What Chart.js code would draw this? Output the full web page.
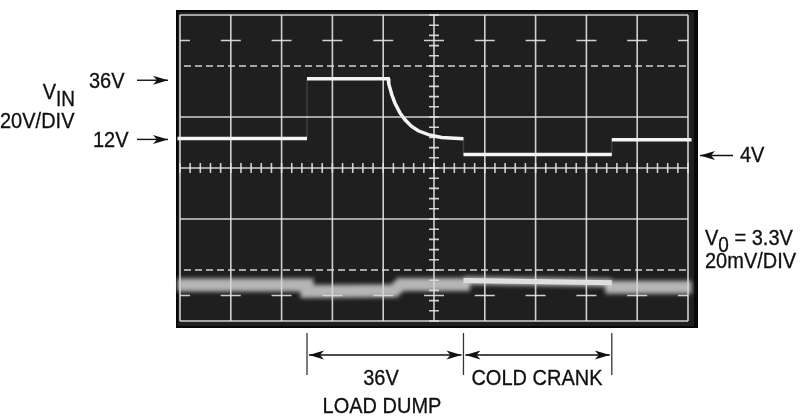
<!DOCTYPE html>
<html>
<head>
<meta charset="utf-8">
<script src="https://cdn.jsdelivr.net/npm/chart.js@4.4.1/dist/chart.umd.min.js"></script>
<style>
  html, body { margin: 0; padding: 0; background: #fff; }
  #wrap { position: relative; width: 800px; height: 418px; overflow: hidden; }
  canvas { position: absolute; left: 0; top: 0; }
  .lbl { position: absolute; font-family: "Liberation Sans", Arial, sans-serif; font-size: 20px; line-height: 20px;
         color: #111; white-space: nowrap; transform: scaleY(1.14); transform-origin: 0 80%;
         -webkit-text-stroke: 0.3px #111; }
  .lbl sub { font-size: 19px; vertical-align: -6px; line-height: 0; }
  .ctr { transform: translateX(-50%) scaleY(1.14); }
</style>
</head>
<body>
<div id="wrap">
  <canvas id="scope" width="800" height="418"></canvas>
  <div class="lbl" style="left:89px; top:71px;">36V</div>
  <div class="lbl" style="right:725px; top:82px;">V<sub>IN</sub></div>
  <div class="lbl" style="left:0px; top:111px;">20V/DIV</div>
  <div class="lbl" style="left:93px; top:130px;">12V</div>
  <div class="lbl" style="left:740px; top:145px;">4V</div>
  <div class="lbl" style="left:705px; top:228px;">V<sub>0</sub> = 3.3V</div>
  <div class="lbl" style="left:705px; top:251px;">20mV/DIV</div>
  <div class="lbl ctr" style="left:381px; top:368px;">36V</div>
  <div class="lbl ctr" style="left:382px; top:396px;">LOAD DUMP</div>
  <div class="lbl ctr" style="left:537px; top:368px;">COLD CRANK</div>
</div>
<script>
// time in divisions, VIN in volts (20V/DIV), VO in mV from the dashed line (20mV/DIV)
const vinTime  = [-0.05, 2.5, 2.5, 4.10, 4.11, 4.17, 4.23, 4.33, 4.43, 4.56, 4.69, 4.89, 5.15, 5.58, 5.58, 8.50, 8.50, 10.07];
const vinVolts = [11.6, 11.6, 35, 35, 33, 28.7, 25.5, 21.6, 18.9, 16.3, 14.6, 13.1, 12.0, 11.5, 5.3, 5.3, 11.1, 11.1];

const voTime = [-0.05, 2.5, 2.5, 4.22, 4.34, 5.58, 5.58, 8.50, 8.50, 10.07];
const voMv   = [-5.9, -5.9, -8.4, -8.1, -5.7, -5.7, -4.1, -5.0, -6.8, -6.8];

const crankTime = [5.58, 8.50];
const crankMv   = [-4.1, -5.0];

// dimension marks under the screen (load dump start, cold crank start, cold crank end)
const eventTimes = [2.5, 5.58, 8.5];

function pts(xs, ys) {
  return xs.map((x, i) => ({ x: x, y: ys[i] }));
}

function arrowHead(ctx, x, y, dir) {
  ctx.beginPath();
  ctx.moveTo(x, y);
  ctx.lineTo(x - dir * 15, y - 4.5);
  ctx.lineTo(x - dir * 11, y);
  ctx.lineTo(x - dir * 15, y + 4.5);
  ctx.closePath();
  ctx.fill();
}

function arrow(ctx, x1, x2, y) {
  ctx.beginPath();
  ctx.moveTo(x1, y);
  ctx.lineTo(x2, y);
  ctx.stroke();
  arrowHead(ctx, x2, y, x2 > x1 ? 1 : -1);
}

const scopePlugin = {
  id: 'scope',
  beforeDraw(chart) {
    const ctx = chart.ctx;
    ctx.save();
    ctx.fillStyle = '#fff';
    ctx.fillRect(0, 0, chart.width, chart.height);
    ctx.fillStyle = '#080808';
    ctx.fillRect(176, 10, 522, 318);
    ctx.fillStyle = '#1f1f1f';
    ctx.fillRect(178, 12, 516, 314);
    ctx.restore();
  },
  beforeDatasetsDraw(chart) {
    const ctx = chart.ctx;
    const xs = chart.scales.x, ys = chart.scales.yVin;
    const a = chart.chartArea;
    ctx.save();
    ctx.strokeStyle = 'rgba(228,228,228,0.9)';
    ctx.lineWidth = 1.6;
    for (let d = 0; d <= 10; d++) {
      const x = xs.getPixelForValue(d);
      ctx.beginPath(); ctx.moveTo(x, a.top); ctx.lineTo(x, a.bottom); ctx.stroke();
    }
    [-60, -20, 0, 20, 60].forEach(v => {
      const y = ys.getPixelForValue(v);
      ctx.beginPath(); ctx.moveTo(a.left, y); ctx.lineTo(a.right, y); ctx.stroke();
    });
    ctx.setLineDash([7, 4]);
    [-40, 40].forEach(v => {
      const y = ys.getPixelForValue(v);
      ctx.beginPath(); ctx.moveTo(a.left + 4, y); ctx.lineTo(a.right - 2, y); ctx.stroke();
    });
    ctx.setLineDash([]);
    const y0 = ys.getPixelForValue(0), x0 = xs.getPixelForValue(5);
    ctx.beginPath();
    for (let t = 0; t <= 10.001; t += 0.2) {
      const x = xs.getPixelForValue(t);
      ctx.moveTo(x, y0 - 5); ctx.lineTo(x, y0 + 5);
    }
    for (let v = -60; v <= 60.001; v += 4) {
      const y = ys.getPixelForValue(v);
      ctx.moveTo(x0 - 5, y); ctx.lineTo(x0 + 5, y);
    }
    [-50, 50].forEach(v => {
      const y = ys.getPixelForValue(v);
      for (let d = 0; d <= 10; d++) {
        const x = xs.getPixelForValue(d);
        ctx.moveTo(Math.max(a.left, x - 10), y); ctx.lineTo(Math.min(a.right, x + 10), y);
      }
    });
    ctx.stroke();
    ctx.restore();
  },
  beforeDatasetDraw(chart, args) {
    if (args.index === 1) {
      chart.ctx.save();
      chart.ctx.filter = 'blur(2px)';
    }
  },
  afterDatasetDraw(chart, args) {
    if (args.index === 1) chart.ctx.restore();
  },
  afterDraw(chart) {
    const ctx = chart.ctx;
    const xs = chart.scales.x, ys = chart.scales.yVin;
    ctx.save();
    ctx.strokeStyle = '#111';
    ctx.fillStyle = '#111';
    ctx.lineWidth = 1.4;
    // level arrows
    arrow(ctx, 137, 168, ys.getPixelForValue(vinVolts[2]) + 1.5);
    arrow(ctx, 137, 168, ys.getPixelForValue(vinVolts[0]) + 1);
    arrow(ctx, 733, 700, ys.getPixelForValue(vinVolts[15]) + 1);
    // dimension lines
    ctx.strokeStyle = '#333';
    ctx.lineWidth = 1.3;
    const ex = eventTimes.map(t => xs.getPixelForValue(t));
    ex.forEach(x => {
      ctx.beginPath(); ctx.moveTo(x, 333); ctx.lineTo(x, 375); ctx.stroke();
    });
    ctx.strokeStyle = '#111';
    ctx.lineWidth = 1.4;
    for (let i = 0; i < 2; i++) {
      const l = ex[i] + 2, r = ex[i + 1] - 2, y = 355;
      ctx.beginPath(); ctx.moveTo(l, y); ctx.lineTo(r, y); ctx.stroke();
      arrowHead(ctx, l, y, -1);
      arrowHead(ctx, r, y, 1);
    }
    ctx.restore();
  }
};

new Chart(document.getElementById('scope'), {
  type: 'line',
  data: {
    datasets: [
      {
        label: 'VIN',
        data: pts(vinTime, vinVolts),
        yAxisID: 'yVin',
        borderColor: '#f4f4f4',
        borderWidth: 3.5,
        pointRadius: 0,
        tension: 0,
        clip: 8,
        segment: {
          borderColor: c => c.p0.parsed.x === c.p1.parsed.x ? 'rgba(255,255,255,0.14)' : '#f4f4f4',
          borderWidth: c => c.p0.parsed.x === c.p1.parsed.x ? 1.5 : 3.5
        }
      },
      {
        label: 'VO band',
        data: pts(voTime, voMv),
        yAxisID: 'yVo',
        borderColor: 'rgba(215,215,215,0.82)',
        borderWidth: 13,
        borderJoinStyle: 'miter',
        pointRadius: 0,
        tension: 0,
        clip: 8,
        segment: {
          borderWidth: c => (c.p0.parsed.x >= 5.58 && c.p1.parsed.x <= 8.5 && c.p0.parsed.x !== c.p1.parsed.x) ? 8 : 13
        }
      },
      {
        label: 'VO crank',
        data: pts(crankTime, crankMv),
        yAxisID: 'yVo',
        borderColor: 'rgba(252,252,252,0.98)',
        borderWidth: 5,
        pointRadius: 0,
        tension: 0
      }
    ]
  },
  options: {
    responsive: false,
    animation: false,
    layout: { padding: { left: 180, right: 112, top: 15, bottom: 97 } },
    scales: {
      x: { type: 'linear', min: 0, max: 10, display: false },
      yVin: { type: 'linear', min: -60, max: 60, display: false },
      yVo: { type: 'linear', min: -20, max: 100, display: false }
    },
    plugins: {
      legend: { display: false },
      tooltip: { enabled: false }
    }
  },
  plugins: [scopePlugin]
});
</script>
</body>
</html>
